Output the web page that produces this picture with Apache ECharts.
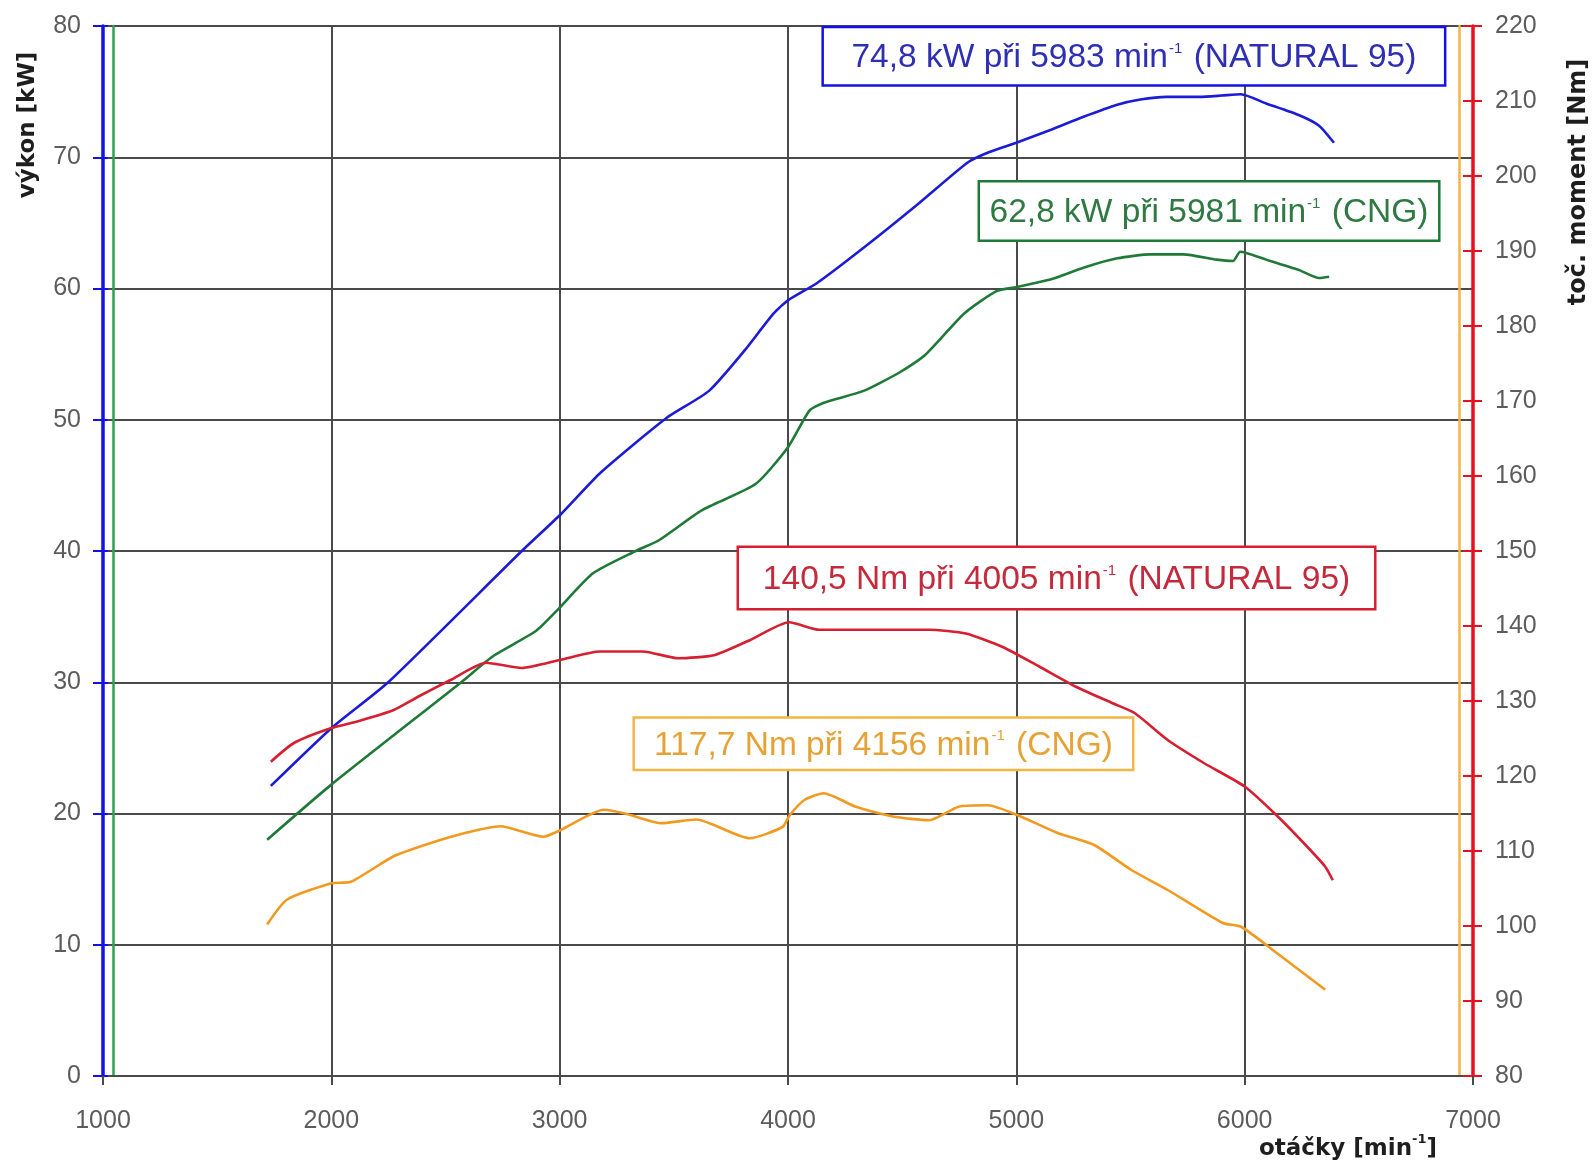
<!DOCTYPE html>
<html>
<head>
<meta charset="utf-8">
<script src="https://cdn.jsdelivr.net/npm/echarts@6/dist/echarts.min.js"></script>
<style>
  html, body { margin: 0; padding: 0; background: #ffffff; }
  #chart { width: 1595px; height: 1163px; }
</style>
</head>
<body>
<div id="chart"></div>
<script>
// Dyno run: engine speed [min-1] vs. power [kW] and torque [Nm], petrol vs. CNG
const powerNatural = [
  [1735, 22.1], [2000, 26.5], [2249, 30.0], [2834, 40.0], [3005, 42.8], [3181, 46.0],
  [3465, 50.1], [3654, 52.2], [3811, 55.3], [3937, 58.1], [4000, 59.1], [4126, 60.4],
  [4331, 63.1], [4567, 66.4], [4787, 69.6], [4882, 70.4], [5000, 71.1], [5152, 72.1],
  [5297, 73.1], [5442, 74.0], [5543, 74.4], [5659, 74.6], [5804, 74.6], [5900, 74.7],
  [5983, 74.8], [6094, 74.1], [6239, 73.2], [6326, 72.4], [6391, 71.1]
];
const powerCng = [
  [1719, 18.0], [2000, 22.2], [2569, 30.0], [2709, 32.0], [2896, 33.9], [2990, 35.5],
  [3146, 38.3], [3333, 40.0], [3433, 40.8], [3622, 43.1], [3858, 45.1], [4000, 47.9],
  [4094, 50.7], [4157, 51.3], [4331, 52.2], [4488, 53.6], [4598, 54.9], [4772, 58.1],
  [4913, 59.8], [5000, 60.1], [5152, 60.7], [5297, 61.6], [5442, 62.3], [5587, 62.6],
  [5732, 62.6], [5877, 62.2], [5949, 62.1], [5981, 62.8], [6094, 62.2], [6239, 61.4],
  [6326, 60.8], [6370, 60.9]
];
const torqueNatural = [
  [1735, 121.9], [1836, 124.4], [2000, 126.4], [2117, 127.3], [2273, 128.8], [2382, 130.6],
  [2522, 132.8], [2678, 135.1], [2834, 134.4], [3005, 135.5], [3177, 136.6], [3364, 136.6],
  [3520, 135.7], [3676, 136.1], [3832, 138.1], [4005, 140.5], [4137, 139.5], [4378, 139.5],
  [4618, 139.5], [4779, 139.0], [4940, 137.2], [5100, 134.6], [5261, 131.9], [5422, 129.7],
  [5518, 128.4], [5663, 124.8], [5823, 121.7], [6000, 118.6], [6145, 114.6], [6273, 110.6],
  [6353, 107.9], [6386, 106.1]
];
const torqueCng = [
  [1719, 100.2], [1805, 103.5], [2000, 105.7], [2086, 105.9], [2273, 109.3], [2429, 111.0],
  [2585, 112.4], [2740, 113.3], [2928, 111.9], [3005, 112.8], [3193, 115.5], [3286, 115.0],
  [3442, 113.7], [3598, 114.2], [3832, 111.7], [3976, 113.2], [4008, 114.8], [4072, 116.8],
  [4156, 117.7], [4297, 115.9], [4458, 114.6], [4618, 114.1], [4747, 115.9], [4876, 116.1],
  [5004, 114.8], [5181, 112.4], [5341, 110.8], [5502, 107.5], [5663, 104.8], [5904, 100.4],
  [5984, 99.9], [6145, 96.3], [6353, 91.5]
];

// Peak annotations: [text before superscript, text after superscript]
const peakTexts = {
  powerNatural: ['74,8 kW při 5983 min', ' (NATURAL 95)'],
  powerCng: ['62,8 kW při 5981 min', ' (CNG)'],
  torqueNatural: ['140,5 Nm při 4005 min', ' (NATURAL 95)'],
  torqueCng: ['117,7 Nm při 4156 min', ' (CNG)']
};

const FONT = '"Liberation Sans", Arial, Helvetica, sans-serif';
const TITLE_FONT = '"DejaVu Sans", Verdana, sans-serif';
const C = {
  blue: '#1c1cd6', green: '#1f7a38', red: '#d61f30', orange: '#f29a20',
  blueAxis: '#1212e6', greenAxis: '#2fa055', redAxis: '#e8101f', orangeAxis: '#f5b545',
  blueText: '#2f2fb4', greenText: '#2f7a42', redText: '#c42a3c', orangeText: '#e6a235',
  grid: '#4a4a4a', tick: '#5c5c5c'
};

const LINE_H = 38;

function peakMark(parts, coord, color, textColor, w, h) {
  const padV = (h - LINE_H) / 2;
  return {
    symbol: 'rect',
    symbolSize: 1,
    itemStyle: { color: 'rgba(0,0,0,0)' },
    silent: true,
    data: [{ coord: coord, value: 0 }],
    label: {
      show: true,
      position: 'inside',
      formatter: '{t|' + parts[0] + '}{s|-1}{t|' + parts[1] + '}',
      width: w,
      align: 'center',
      verticalAlign: 'middle',
      backgroundColor: '#ffffff',
      borderColor: color,
      borderWidth: 2.5,
      padding: [padV, 0, padV, 0],
      rich: {
        t: { fontFamily: FONT, fontSize: 33.5, color: textColor, lineHeight: LINE_H, verticalAlign: 'bottom' },
        s: { fontFamily: FONT, fontSize: 15, color: textColor, lineHeight: LINE_H, verticalAlign: 'top', padding: [4, 2, 0, 1] }
      }
    }
  };
}

const tickLabel = { fontFamily: FONT, fontSize: 25, color: C.tick };

const option = {
  animation: false,
  backgroundColor: '#ffffff',
  grid: { left: 103, right: 122, top: 26, bottom: 87, containLabel: false },
  xAxis: {
    type: 'value', min: 1000, max: 7000, interval: 1000,
    axisLine: { show: true, lineStyle: { color: C.grid, width: 2 } },
    axisTick: { show: true, length: 9, lineStyle: { color: C.grid, width: 2 } },
    axisLabel: Object.assign({ margin: 33, formatter: v => String(v) }, tickLabel),
    splitLine: { show: true, lineStyle: { color: C.grid, width: 2 } }
  },
  yAxis: [
    { // power, main left axis
      type: 'value', position: 'left', min: 0, max: 80, interval: 10,
      axisLine: { show: true, lineStyle: { color: C.blueAxis, width: 3.5 } },
      axisTick: { show: true, length: 10, lineStyle: { color: C.blueAxis, width: 2 } },
      axisLabel: Object.assign({ margin: 22 }, tickLabel),
      splitLine: { show: true, lineStyle: { color: C.grid, width: 2 } }
    },
    { // power, CNG axis line
      type: 'value', position: 'left', offset: -10, min: 0, max: 80, interval: 10,
      axisLine: { show: true, lineStyle: { color: C.greenAxis, width: 2.5 } },
      axisTick: { show: false }, axisLabel: { show: false }, splitLine: { show: false }
    },
    { // torque, main right axis
      type: 'value', position: 'right', min: 80, max: 220, interval: 10,
      axisLine: { show: true, lineStyle: { color: C.redAxis, width: 3.5 } },
      axisTick: { show: true, length: 9, lineStyle: { color: C.redAxis, width: 2 } },
      axisLabel: Object.assign({ margin: 22 }, tickLabel),
      splitLine: { show: false }
    },
    { // torque, CNG axis line
      type: 'value', position: 'right', offset: -14, min: 80, max: 220, interval: 10,
      axisLine: { show: true, lineStyle: { color: C.orangeAxis, width: 2.5 } },
      axisTick: { show: false }, axisLabel: { show: false }, splitLine: { show: false }
    },
    { // inner half of the power ticks
      type: 'value', position: 'left', min: 0, max: 80, interval: 10,
      axisLine: { show: false },
      axisTick: { show: true, inside: true, length: 5, lineStyle: { color: C.blueAxis, width: 2 } },
      axisLabel: { show: false }, splitLine: { show: false }
    },
    { // inner half of the torque ticks
      type: 'value', position: 'right', min: 80, max: 220, interval: 10,
      axisLine: { show: false },
      axisTick: { show: true, inside: true, length: 10, lineStyle: { color: C.redAxis, width: 2 } },
      axisLabel: { show: false }, splitLine: { show: false }
    }
  ],
  series: [
    {
      name: 'výkon NATURAL 95', type: 'line', yAxisIndex: 0, data: powerNatural,
      showSymbol: false, smooth: 0.2, lineStyle: { color: C.blue, width: 2.6 }, z: 3,
      markPoint: peakMark(peakTexts.powerNatural, [5515, 77.7], C.blueAxis, C.blueText, 620, 56)
    },
    {
      name: 'výkon CNG', type: 'line', yAxisIndex: 1, data: powerCng,
      showSymbol: false, smooth: 0.2, lineStyle: { color: C.green, width: 2.6 }, z: 3,
      markPoint: peakMark(peakTexts.powerCng, [5844, 65.9], C.green, C.greenText, 458, 57)
    },
    {
      name: 'toč. moment NATURAL 95', type: 'line', yAxisIndex: 2, data: torqueNatural,
      showSymbol: false, smooth: 0.2, lineStyle: { color: C.red, width: 2.6 }, z: 3,
      markPoint: peakMark(peakTexts.torqueNatural, [5176, 146.4], C.red, C.redText, 635, 60)
    },
    {
      name: 'toč. moment CNG', type: 'line', yAxisIndex: 3, data: torqueCng,
      showSymbol: false, smooth: 0.2, lineStyle: { color: C.orange, width: 2.6 }, z: 3,
      markPoint: peakMark(peakTexts.torqueCng, [4418, 124.3], C.orangeAxis, C.orangeText, 497, 50)
    }
  ],
  graphic: [
    {
      type: 'text', x: 28, y: 125, rotation: Math.PI / 2, silent: true,
      style: { text: 'výkon [kW]', font: 'bold 23px ' + TITLE_FONT, fill: '#1e1e1e', align: 'center', verticalAlign: 'middle' }
    },
    {
      type: 'text', x: 1579, y: 182, rotation: Math.PI / 2, silent: true,
      style: { text: 'toč. moment [Nm]', font: 'bold 24px ' + TITLE_FONT, fill: '#1e1e1e', align: 'center', verticalAlign: 'middle' }
    },
    {
      type: 'text', x: 1348, y: 1147, silent: true,
      style: {
        text: '{b|otáčky [min}{s|-1}{b|]}',
        align: 'center', verticalAlign: 'middle',
        rich: {
          b: { font: 'bold 23px ' + TITLE_FONT, fill: '#1e1e1e', lineHeight: 28, verticalAlign: 'bottom' },
          s: { font: 'bold 13px ' + TITLE_FONT, fill: '#1e1e1e', lineHeight: 28, verticalAlign: 'top' }
        }
      }
    }
  ]
};

const chart = echarts.init(document.getElementById('chart'), null, { renderer: 'canvas' });
chart.setOption(option);
</script>
</body>
</html>
